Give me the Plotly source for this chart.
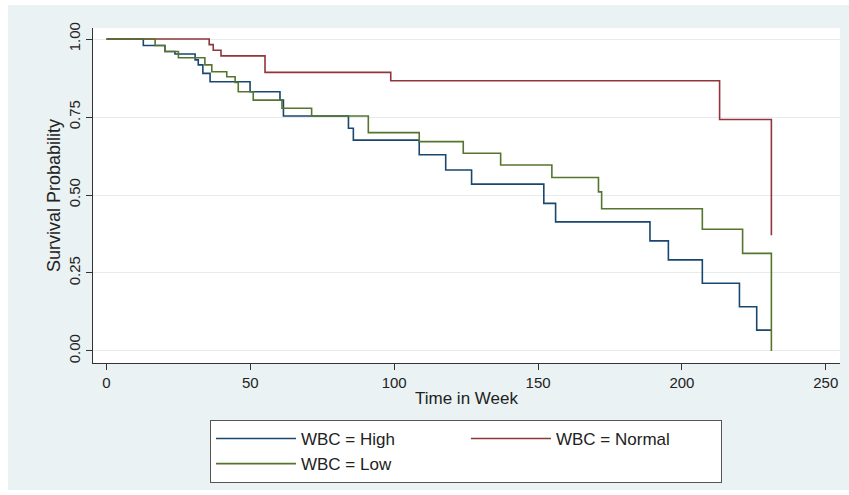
import plotly.graph_objects as go

# Kaplan-Meier step data
t_high = [0, 12.8, 20.3, 23.8, 30.8, 31.9, 33.5, 36.0, 49.9, 60.3, 61.5, 84.1, 85.8,
          108.7, 117.9, 126.9, 152.0, 156.1, 188.9, 195.3, 207.1, 220.0, 226.0, 231.1]
s_high = [1.0, 0.979, 0.960, 0.952, 0.933, 0.917, 0.890, 0.863, 0.831, 0.804, 0.753, 0.714, 0.676,
          0.629, 0.580, 0.535, 0.473, 0.414, 0.353, 0.292, 0.217, 0.142, 0.067, 0.067]

t_normal = [0, 35.7, 37.1, 39.8, 55.1, 98.8, 213.1, 231.1]
s_normal = [1.0, 0.982, 0.964, 0.946, 0.893, 0.866, 0.742, 0.371]

t_low = [0, 16.9, 20.3, 25.0, 34.2, 36.6, 41.8, 44.7, 45.8, 51.0, 61.0, 71.3, 91.0,
         108.7, 124.0, 137.0, 154.8, 171.0, 172.1, 207.1, 221.1, 231.1]
s_low = [1.0, 0.979, 0.960, 0.940, 0.917, 0.895, 0.879, 0.861, 0.831, 0.804, 0.778, 0.753, 0.700,
         0.671, 0.634, 0.596, 0.556, 0.510, 0.456, 0.390, 0.313, 0.0]

names = ["WBC = High", "WBC = Normal", "WBC = Low"]
colors = ["#1a476f", "#90353b", "#55752f"]

x_ticks = [0, 50, 100, 150, 200, 250]
y_ticks = [0, 0.25, 0.5, 0.75, 1.0]

fig = go.Figure()
for t, s, n, c in zip([t_high, t_normal, t_low], [s_high, s_normal, s_low], names, colors):
    fig.add_trace(go.Scatter(x=t, y=s, mode="lines", name=n, line=dict(color=c, width=1.6, shape="hv")))

bg = "#eaf2f3"
fig.update_layout(
    width=849, height=495,
    margin=dict(l=93, r=9, t=28, b=132, autoexpand=False),
    paper_bgcolor="white",
    plot_bgcolor="rgba(0,0,0,0)",
    font=dict(family="Liberation Sans, Arial, sans-serif", size=15, color="#222"),
    shapes=[
        dict(type="rect", xref="paper", yref="paper", x0=-0.1138, x1=1.012, y0=-0.379, y1=1.0687,
             fillcolor=bg, line=dict(width=0), layer="below"),
        dict(type="rect", xref="paper", yref="paper", x0=0, x1=1, y0=0, y1=1,
             fillcolor="white", line=dict(width=0), layer="below"),
    ],
    legend=dict(orientation="h", x=0.1566, y=-0.17, xanchor="left", yanchor="top",
                bgcolor="white", bordercolor="#555", borderwidth=1,
                entrywidthmode="pixels", entrywidth=160, itemwidth=80,
                font=dict(size=17), tracegroupgap=0),
    showlegend=True,
)
fig.update_xaxes(range=[-4.69, 254.95], tickvals=x_ticks, ticks="outside", ticklen=6,
                 tickcolor="#333", showline=True, linecolor="#333", linewidth=1,
                 showgrid=False, zeroline=False,
                 title=dict(text="Time in Week", standoff=2, font=dict(size=17)),
                 tickfont=dict(size=15))
fig.update_yaxes(range=[-0.0385, 1.0353], tickvals=y_ticks, tickformat=".2f", tickangle=-90,
                 ticks="outside", ticklen=6, tickcolor="#333", showline=True, linecolor="#333",
                 linewidth=1, showgrid=True, gridcolor="#e6ecee", gridwidth=1, zeroline=False,
                 title=dict(text="Survival Probability", standoff=0), tickfont=dict(size=15))

fig.write_html("out.html")
